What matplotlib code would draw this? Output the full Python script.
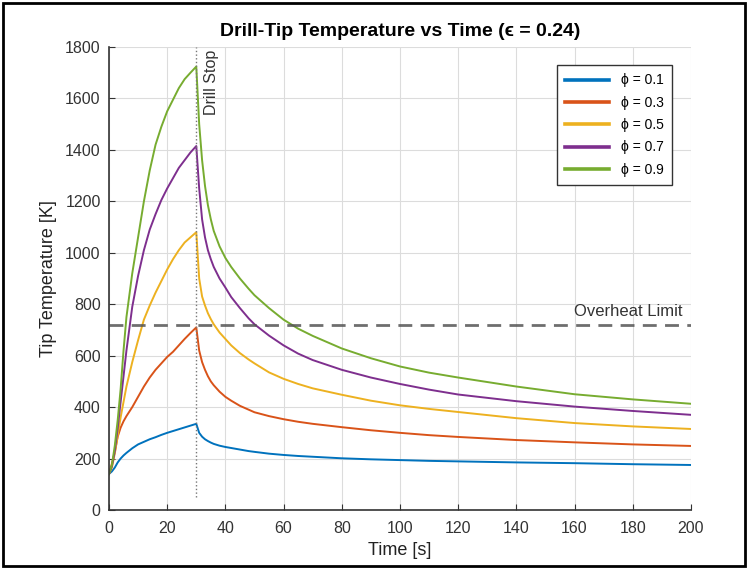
import matplotlib
matplotlib.use("Agg")
import matplotlib.pyplot as plt
from matplotlib.patches import Rectangle

plt.rcParams['font.family'] = ['Liberation Sans', 'DejaVu Sans']

# time axis [s]
t = [0, 1, 2, 3, 4, 5, 6, 8, 10, 12, 14, 16, 18, 20, 22, 24, 26, 28, 30,
     31, 32, 33, 34, 35, 36, 38, 40, 42, 45, 48, 50, 55, 60, 65, 70,
     80, 90, 100, 110, 120, 140, 160, 180, 200]

# tip temperature [K] for each phi
T_01 = [140, 150, 165, 185, 200, 212, 222, 240, 255, 265, 275, 283, 292, 300, 307, 314, 321, 328, 335,
        300, 285, 275, 268, 262, 257, 250, 245, 241, 235, 229, 226, 219, 214, 210, 207,
        201, 197, 194, 191, 189, 185, 182, 178, 175]
T_03 = [140, 180, 225, 285, 320, 345, 365, 400, 440, 480, 515, 545, 570, 595, 615, 640, 665, 688, 710,
        620, 575, 545, 520, 500, 485, 460, 440, 425, 405, 390, 380, 365, 353, 343, 335,
        322, 310, 300, 291, 284, 272, 263, 255, 249]
T_05 = [140, 165, 220, 290, 360, 420, 480, 575, 660, 740, 795, 845, 890, 935, 975, 1010, 1040, 1060, 1080,
        900, 830, 795, 765, 742, 722, 690, 665, 640, 610, 585, 570, 535, 510, 490, 473,
        448, 425, 407, 393, 381, 357, 338, 325, 315]
T_07 = [140, 170, 230, 320, 420, 520, 620, 790, 910, 1010, 1090, 1150, 1205, 1250, 1290, 1330, 1360, 1390, 1415,
        1250, 1130, 1060, 1010, 975, 945, 900, 865, 828, 785, 745, 722, 678, 640, 608, 583,
        545, 515, 490, 468, 449, 423, 402, 385, 370]
T_09 = [140, 175, 250, 350, 470, 620, 750, 920, 1060, 1200, 1320, 1420, 1490, 1550, 1595, 1640, 1675, 1700, 1724,
        1500, 1360, 1260, 1185, 1130, 1085, 1025, 980, 945, 900, 860, 835, 785, 740, 705, 677,
        628, 590, 558, 534, 515, 480, 450, 430, 413]

series = [T_01, T_03, T_05, T_07, T_09]
labels = ['\u03d5 = 0.1', '\u03d5 = 0.3', '\u03d5 = 0.5', '\u03d5 = 0.7', '\u03d5 = 0.9']
colors = ['#0072BD', '#D95319', '#EDB120', '#7E2F8E', '#77AC30']

overheat = 720
t_stop = 30

fig = plt.figure(figsize=(7.48, 5.69), dpi=100)
ax = fig.add_axes([0.1457, 0.1037, 0.778, 0.8137])

for y, lab, c in zip(series, labels, colors):
    ax.plot(t, y, color=c, lw=1.4, label=lab)

ax.axhline(overheat, color='#555555', lw=2, ls=(0, (5, 3)), alpha=0.85)
ax.plot([t_stop, t_stop], [50, 1800], color='#777777', lw=1, ls=':')

ax.text(197, overheat + 22, 'Overheat Limit', ha='right', va='bottom',
        fontsize=12, color='#333333')
ax.text(t_stop + 2.5, 1790, 'Drill Stop', rotation=90, ha='left', va='top',
        fontsize=11.5, color='#333333')

ax.set_xlim(0, 200)
ax.set_ylim(0, 1800)
ax.set_xticks(range(0, 201, 20))
ax.set_yticks(range(0, 1801, 200))
ax.grid(True, color='#dcdcdc', lw=0.8)
ax.set_axisbelow(True)
for s in ['top', 'right']:
    ax.spines[s].set_visible(False)
for s in ['left', 'bottom']:
    ax.spines[s].set_color('#333333')
    ax.spines[s].set_linewidth(1.2)
ax.tick_params(direction='in', length=4, labelsize=11.5, colors='#333333', pad=6)
ax.tick_params(axis='x', pad=8)

ax.set_xlabel('Time [s]', fontsize=13, color='#222222', labelpad=4)
ax.set_ylabel('Tip Temperature [K]', fontsize=13, color='#222222', labelpad=6)
ax.set_title('Drill-Tip Temperature vs Time (\u03f5 = 0.24)', fontsize=14,
             fontweight='bold', pad=8)

leg = ax.legend(loc='upper right', bbox_to_anchor=(0.967, 0.961), borderaxespad=0,
                fontsize=10, handlelength=3.2, fancybox=False, framealpha=1,
                borderpad=0.6, labelspacing=0.6)
leg.get_frame().set_edgecolor('#333333')
leg.get_frame().set_linewidth(1)
for l in leg.get_lines():
    l.set_linewidth(2.6)

fig.patches.append(Rectangle((0.004, 0.005), 0.992, 0.99, transform=fig.transFigure,
                             fill=False, edgecolor='black', lw=2))

fig.savefig('out.png', dpi=100)
